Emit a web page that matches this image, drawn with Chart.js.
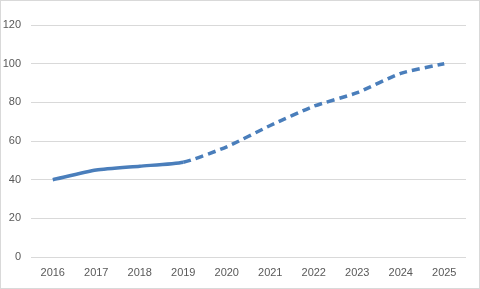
<!DOCTYPE html>
<html>
<head>
<meta charset="utf-8">
<script src="https://cdn.jsdelivr.net/npm/chart.js@4"></script>
<style>
  html, body { margin: 0; padding: 0; background: #fff; }
  #wrap {
    position: absolute; left: 0; top: 0;
    width: 480px; height: 289px;
    box-sizing: border-box;
    border: 1px solid #d9d9d9;
  }
  #chart { display: block; }
</style>
</head>
<body>
<div id="wrap"><canvas id="chart" width="478" height="287"></canvas></div>
<script>
    // data
    const years = ['2016', '2017', '2018', '2019', '2020', '2021', '2022', '2023', '2024', '2025'];
    const values = [40, 45, 47, 49, 57, 68, 78, 85, 95, 100];
    const actualUntil = 3; // index of 2019, dashed afterwards (forecast)

    const lineColor = '#4a7ebb';
    const gridColor = '#d9d9d9';
    const textColor = '#595959';

    Chart.defaults.font.family = "'Liberation Sans', 'DejaVu Sans', sans-serif";
    Chart.defaults.font.size = 11;
    Chart.defaults.color = textColor;

    new Chart(document.getElementById('chart'), {
        type: 'line',
        data: {
            labels: years,
            datasets: [{
                data: values,
                borderColor: lineColor,
                borderWidth: 3.5,
                borderCapStyle: 'butt',
                pointRadius: 0,
                tension: 0.2,
                fill: false,
                segment: {
                    borderDash: (ctx) => ctx.p0DataIndex >= actualUntil ? [8, 5] : undefined
                }
            }]
        },
        options: {
            responsive: false,
            animation: false,
            layout: { padding: { top: 24, right: 13, left: 0, bottom: 0 } },
            plugins: {
                legend: { display: false },
                tooltip: { enabled: false }
            },
            scales: {
                x: {
                    offset: true,
                    grid: { display: false, drawTicks: false },
                    border: { display: false },
                    ticks: { padding: 9, maxRotation: 0 },
                    afterFit: (scale) => { scale.height = 31; }
                },
                y: {
                    min: 0,
                    max: 120,
                    grid: { color: gridColor, lineWidth: 1, drawTicks: false },
                    border: { display: false },
                    ticks: { stepSize: 20, padding: 10 },
                    afterFit: (scale) => { scale.width = 30; }
                }
            }
        }
    });
</script>
</body>
</html>
